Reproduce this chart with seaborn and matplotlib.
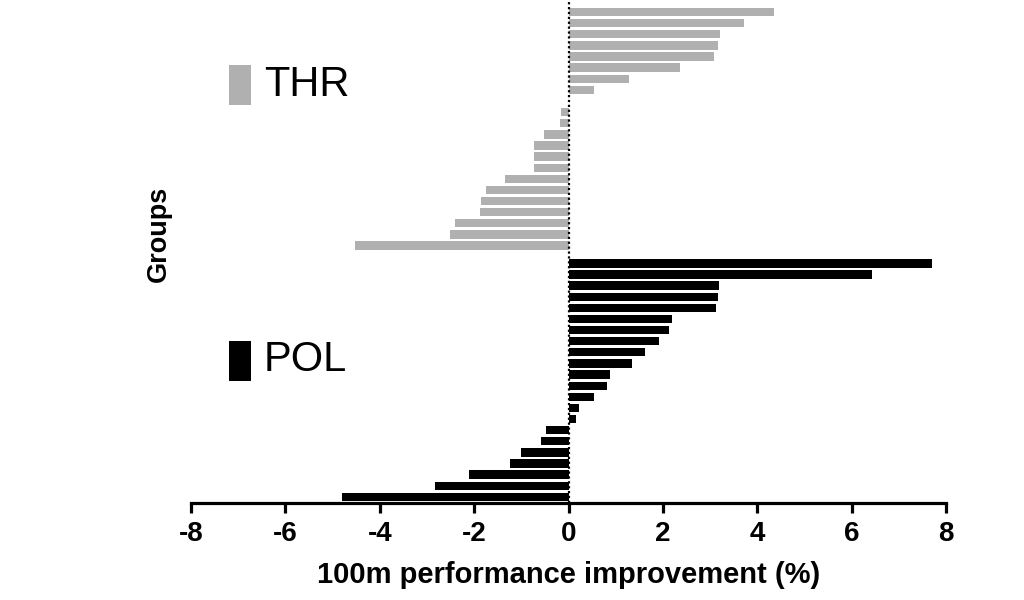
import matplotlib
matplotlib.use("Agg")
import matplotlib.pyplot as plt
from matplotlib.patches import Rectangle
import seaborn as sns
import pandas as pd
import numpy as np

# ---- data ----
groups = ["THR", "POL"]
thr_values = [4.36, 3.71, 3.21, 3.16, 3.08, 2.36, 1.28, 0.55, 0.0, -0.15, -0.17,
              -0.52, -0.74, -0.74, -0.74, -1.34, -1.74, -1.86, -1.87, -2.40, -2.52, -4.52]
pol_values = [7.71, 6.44, 3.18, 3.16, 3.12, 2.19, 2.13, 1.92, 1.62, 1.34, 0.89,
              0.82, 0.54, 0.23, 0.15, -0.48, -0.58, -1.00, -1.25, -2.10, -2.83, -4.81]
x_ticks = [-8, -6, -4, -2, 0, 2, 4, 6, 8]
x_label = "100m performance improvement (%)"
y_label = "Groups"
colors = {"THR": "#b0b0b0", "POL": "#000000"}

# ---- build table ----
group_gap = 1.6
rows = []
for i, v in enumerate(thr_values):
    rows.append({"group": "THR", "pos": float(i), "value": v})
offset = len(thr_values) + group_gap - 1
for j, v in enumerate(pol_values):
    rows.append({"group": "POL", "pos": offset + j, "value": v})
df = pd.DataFrame(rows)

sns.set_theme(style="white")
plt.rcParams["font.family"] = ["Liberation Sans", "DejaVu Sans"]
plt.rcParams["text.color"] = "black"
plt.rcParams["axes.labelcolor"] = "black"
plt.rcParams["xtick.color"] = "black"

fig = plt.figure(figsize=(10.24, 6.0), dpi=100)
ax = fig.add_axes([191 / 1024, 97 / 600, 755 / 1024, 501 / 600])

sns.barplot(data=df, x="value", y="pos", hue="group", orient="h", native_scale=True,
            palette=colors, dodge=False, errorbar=None, width=0.75, legend=False,
            linewidth=0, ax=ax)

ax.axvline(0, color="black", ls=(0, (1, 1.2)), lw=1.6, zorder=5)

last = df["pos"].max()
ax.set_ylim(last + 0.55, -0.9)
ax.set_xlim(-8, 8)
ax.set_xticks(x_ticks)
ax.set_xticklabels([str(t) for t in x_ticks],
                   fontdict={"family": ["Liberation Sans", "DejaVu Sans"],
                             "weight": "bold", "size": 20, "color": "black"})
ax.set_yticks([])

for s in ["left", "right", "top"]:
    ax.spines[s].set_visible(False)
ax.spines["bottom"].set_linewidth(2.3)
ax.spines["bottom"].set_color("black")
ax.tick_params(axis="x", direction="out", length=7, width=2.3, color="black", pad=6,
               bottom=True, labelcolor="black")

ax.set_xlabel(x_label, family=["Liberation Sans", "DejaVu Sans"],
              weight="bold", size=21, labelpad=10, color="black")
ax.set_ylabel(y_label, family=["Liberation Sans", "DejaVu Sans"], weight="bold",
              size=19.5, color="black")
ax.yaxis.set_label_coords(-0.025, 0.537)

# ---- legend-like labels ----
for g, top_px, txt_y in [("THR", 65, 85), ("POL", 341, 360)]:
    fig.add_artist(Rectangle((229 / 1024, (600 - top_px - 40) / 600), 22 / 1024, 40 / 600,
                             transform=fig.transFigure, facecolor=colors[g],
                             edgecolor="none"))
    fig.text(264 / 1024, (600 - txt_y) / 600, g, ha="left", va="center",
             family=["Liberation Sans", "DejaVu Sans"], size=30, color="black")

fig.savefig("out.png", dpi=100)
